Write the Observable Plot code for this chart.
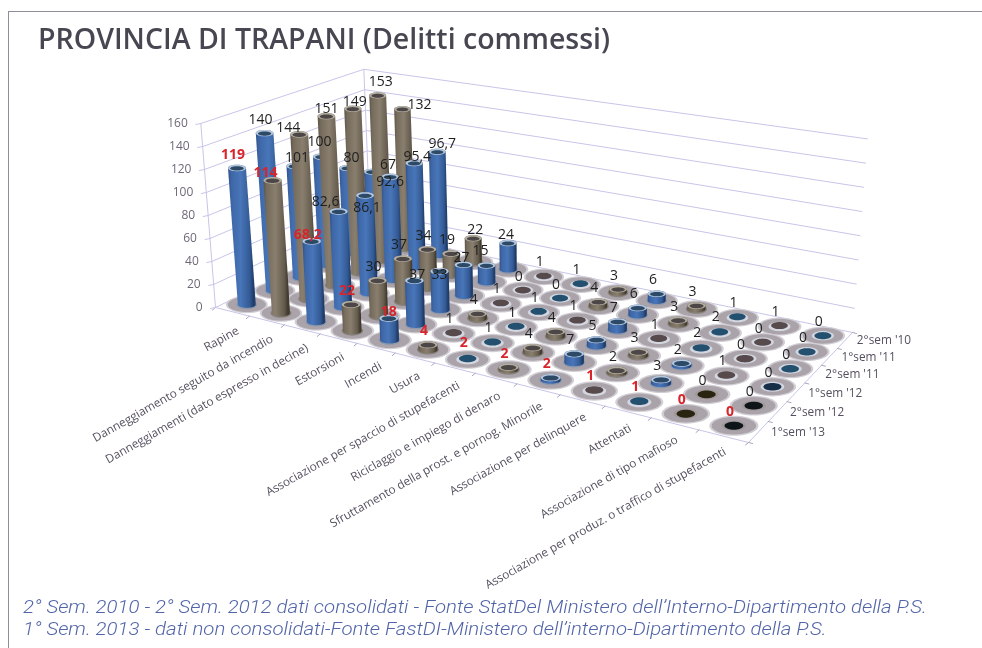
<!DOCTYPE html>
<html lang="it">
<head>
<meta charset="utf-8">
<title>Provincia di Trapani</title>
<script src="https://cdn.jsdelivr.net/npm/d3@7"></script>
<script src="https://cdn.jsdelivr.net/npm/@observablehq/plot@0.6"></script>
<style>
html,body{margin:0;padding:0;background:#fff;width:982px;height:648px;overflow:hidden}
#frame{position:absolute;left:8px;top:11px;width:974px;height:637px;border-left:1.5px solid #8f8f9c;border-top:1.5px solid #8f8f9c;box-sizing:border-box}
h1{position:absolute;left:38px;top:19px;margin:0;font:600 28.5px/38px "Open Sans",sans-serif;color:#474752;white-space:nowrap;filter:blur(.35px)}
#chart{position:absolute;left:0;top:62px;filter:blur(.5px)}
#note{position:absolute;left:23px;top:596px;margin:0;font:italic 300 18.4px/21.5px Roboto,sans-serif;color:#5164a8;white-space:nowrap;filter:blur(.25px);transform-origin:0 0;transform:scaleX(1.11)}
</style>
</head>
<body>
<div id="frame"></div>
<h1>PROVINCIA DI TRAPANI (Delitti commessi)</h1>
<div id="chart"></div>
<p id="note">2° Sem. 2010 - 2° Sem. 2012 dati consolidati - Fonte StatDel Ministero dell’Interno-Dipartimento della P.S.<br>1° Sem. 2013 - dati non consolidati-Fonte FastDI-Ministero dell’interno-Dipartimento della P.S.</p>
<script>
const categories = ["Rapine","Danneggiamento seguito da incendio","Danneggiamenti (dato espresso in decine)","Estorsioni","Incendi","Usura","Associazione per spaccio di stupefacenti","Riciclaggio e impiego di denaro","Sfruttamento della prost. e pornog. Minorile","Associazione per delinquere","Attentati","Associazione di tipo mafioso","Associazione per produz. o traffico di stupefacenti"];
const semesters = ["1°sem '13","2°sem '12","1°sem '12","2°sem '11","1°sem '11","2°sem '10"];
const sem1_13 = [119,114,68.2,22,18,4,2,2,2,1,1,0,0];
const sem2_12 = [140,144,82.6,30,37,1,1,4,7,2,3,0,0];
const sem1_12 = [101,151,86.1,37,33,4,1,4,5,3,2,1,0];
const sem2_11 = [100,149,92.6,34,27,1,1,1,7,1,2,0,0];
const sem1_11 = [80,153,95.4,19,15,0,0,4,6,3,2,0,0];
const sem2_10 = [67,132,96.7,22,24,1,1,3,6,3,1,1,0];
const seriesValues = [sem1_13,sem2_12,sem1_12,sem2_11,sem1_11,sem2_10];
const valueTicks = [0,20,40,60,80,100,120,140,160];

// 3-D view of the chart: floor corners, depth scale of the value axis, vanishing point of the verticals
const floor = {fl:[215,307], fr:[748,442], br:[852,332], bl:[370,232]};
const depthScale = {fl:1.15, fr:1.37, br:1.21, bl:1.02};
const vanish = [540,4375];
const nudges = {"1-1":[-11,-7],"2-1":[0,-8],"3-1":[2,-7],"4-1":[3,-14],"5-1":[17,-5],"2-0":[2,-9],"3-0":[-2,-15],"4-0":[4,-11],"5-0":[16,-7],
 "5-2":[5,-8],"4-2":[3,-7],"3-2":[0,5],"2-2":[2,12],"1-2":[-13,-10],"0-2":[-4,-7],"0-1":[-7,-8],"0-4":[0,-7],"1-4":[3,-6],"2-4":[0,3],"3-4":[-2,-7],"4-4":[-6,-15],"5-4":[-2,-9],"5-3":[2,-9]};

const [x0,y0]=floor.fl,[x1,y1]=floor.fr,[x2,y2]=floor.br,[x3,y3]=floor.bl;
const dx1=x1-x2,dx2=x3-x2,sx=x0-x1+x2-x3,dy1=y1-y2,dy2=y3-y2,sy=y0-y1+y2-y3;
const den=dx1*dy2-dx2*dy1,g=(sx*dy2-dx2*sy)/den,h=(dx1*sy-sx*dy1)/den;
const A=x1-x0+g*x1,B=x3-x0+h*x3,D=y1-y0+g*y1,E=y3-y0+h*y3;
function unit(u,v){const w=g*u+h*v+1;return [(A*u+B*v+x0)/w,(D*u+E*v+y0)/w];}
const cellUV=(c,r)=>[(c+.5)/categories.length,(r+.5)/semesters.length];
function kAt(u,v){return (1-v)*((1-u)*depthScale.fl+u*depthScale.fr)+v*((1-u)*depthScale.bl+u*depthScale.br);}
function lift(u,v,value){const [x,y]=unit(u,v),k=kAt(u,v),dy=value*k;return [x+dy*(x-vanish[0])/(vanish[1]-y),y-dy];}

// closed outlines handed to Plot.line (z keeps them apart, order gives the painter's depth)
const shapes=[];let nid=0;
function addShape(pts,fill){const id=nid++;for(const p of pts)shapes.push({id,x:p[0],y:p[1],fill});}
const arc=(cx,cy,rx,ry,a0,a1,n=24)=>d3.range(n+1).map(i=>{const a=a0+(a1-a0)*i/n;return [cx+rx*Math.cos(a),cy+ry*Math.sin(a)];});
const ell=(cx,cy,rx,ry)=>arc(cx,cy,rx,ry,0,2*Math.PI,36);

const cells=[];
seriesValues.forEach((vals,r)=>vals.forEach((value,c)=>{
  const [u,v]=cellUV(c,r),[bx,by]=unit(u,v),[tx,ty]=lift(u,v,value),k=kAt(u,v);
  cells.push({c,r,value,u,v,bx,by,tx,ty,k,blue:c%2===0});
}));
cells.sort((a,b)=>a.by-b.by);

// floor shadows first, then the cylinders from back to front
cells.forEach(d=>{const s=d.k/1.15;
  addShape(ell(d.bx,d.by,21*s,8.6*s),"#d2ced5");
  addShape(ell(d.bx,d.by,19*s,7.5*s),"#aaa4aa");
});
cells.forEach(d=>{
  const s=d.k/1.15,rx=9*s,ry=3.3*s,near=d.c>=11&&d.r<2;
  const center=near?(d.blue?"#0e1418":"#29240f"):(d.blue?(d.c===12&&d.r===2?"#173048":"#24506f"):"#574a4c");
  const hgt=d.by-d.ty;
  if(hgt<2.5){
    addShape(ell(d.bx,d.by,10.5*s,4.4*s),near?"#a09a9c":"#d4d6e0");
    addShape(ell(d.bx,d.by-(d.value?1:0),8*s,3.4*s),center);
    return;
  }
  addShape(ell(d.bx,d.by,rx+1.4,ry+1.4),d.blue?"#9099ac":"#86817a");
  // lower half of the base from left to right, then back across the top
  const base=arc(d.bx,d.by,rx,ry,Math.PI,0,24);
  const top=arc(d.tx,d.ty,rx,ry,0,-Math.PI,24);
  const bottom=base.map(([x,y])=>[x,d.by+Math.abs(y-d.by)]);
  addShape([...bottom,...top],d.blue?"url(#gBlue)":"url(#gBrown)");
  addShape(ell(d.tx,d.ty,rx,ry),d.blue?"#b7c8dc":"#b3aea2");
  addShape(ell(d.tx,d.ty+.4,rx-2.2,ry-1.1),d.blue?"#2c4a68":"#4c4646");
});

const F=(u,v,val=0)=>lift(u,v,val);
const wallLines=[];
valueTicks.forEach(t=>{
  wallLines.push({key:"w"+t,p:[F(0,0,t),F(0,1,t),F(1,1,t)]});
});
wallLines.push({key:"vl",p:[F(0,0,0),F(0,0,160)]});
wallLines.push({key:"vb",p:[F(0,1,0),F(0,1,160)]});
wallLines.push({key:"ft",p:[F(0,0),F(1,0),F(1,1)]});
const wallPts=wallLines.flatMap(l=>l.p.map(([x,y])=>({key:l.key,x,y})));

const tickPts=valueTicks.flatMap(t=>{const [x,y]=F(0,0,t);return [{key:t,x,y},{key:t,x:x-5,y:y+1}];});
const floorTicks=d3.range(categories.length+1).flatMap(i=>{const [x,y]=unit(i/categories.length,0);return [{key:"c"+i,x,y},{key:"c"+i,x:x-3,y:y+2.5}];})
  .concat(d3.range(semesters.length+1).flatMap(i=>{const [x,y]=unit(1,i/semesters.length);return [{key:"s"+i,x,y},{key:"s"+i,x:x+4,y:y+1}];}));

const valueLabels=cells.map(d=>{
  const [dx,dy]=nudges[d.r+"-"+d.c]||[-4,-14];
  return {text:String(d.value).replace(".",","),x:d.tx+dx,y:d.ty+dy,red:d.r===0,fill:d.r===0?"#d8242a":"#1f1f1f"};
});
const catLabels=categories.map((name,c)=>{const [u,v]=cellUV(c,0),[x,y]=unit(u,v);return {name,x:x-9,y:y+25};});
const semLabels=semesters.map((name,r)=>{const [u,v]=cellUV(categories.length-1,r),[x,y]=unit(u,v);return {name,x:x+37-r*.6,y:y+7-r*.4};});
const yTicks=valueTicks.map(t=>{const [x,y]=F(0,0,t);return {t,x:x-13,y};});

const defs=()=>{
  const svg=d3.create("svg:defs");
  const grad=(id,stops)=>{const l=svg.append("linearGradient").attr("id",id).attr("x1",0).attr("x2",1).attr("y1",0).attr("y2",0);
    stops.forEach(([o,c])=>l.append("stop").attr("offset",o).attr("stop-color",c));};
  grad("gBlue",[[0,"#2f5088"],[.12,"#3d66a6"],[.45,"#4876b9"],[.78,"#335a94"],[.93,"#1f3a66"],[1,"#2d4a76"]]);
  grad("gBrown",[[0,"#5a5347"],[.12,"#756b5c"],[.45,"#8a7f6e"],[.78,"#655c4e"],[.93,"#3d372d"],[1,"#544c40"]]);
  return svg.node();
};

const plot=Plot.plot({
  width:982,height:530,margin:0,
  x:{domain:[0,982],range:[0,982],axis:null},
  y:{domain:[592,62],range:[530,0],axis:null},
  color:{type:"identity"},
  style:{background:"transparent",fontFamily:"'Open Sans',sans-serif",overflow:"visible"},
  marks:[
    defs,
    Plot.line(wallPts,{x:"x",y:"y",z:"key",stroke:"#c8c5e8",strokeWidth:1}),
    Plot.line(floorTicks,{x:"x",y:"y",z:"key",stroke:"#a9a5bc",strokeWidth:1}),
    Plot.line(tickPts,{x:"x",y:"y",z:"key",stroke:"#c8c5e8",strokeWidth:1}),
    Plot.line(shapes,{x:"x",y:"y",z:"id",fill:"fill",stroke:"none"}),
    Plot.text(yTicks,{x:"x",y:"y",text:d=>String(d.t),textAnchor:"end",fontSize:12,fill:"#6f6878"}),
    Plot.text(catLabels,{x:"x",y:"y",text:"name",rotate:-29.5,textAnchor:"end",fontSize:11.8,fill:"#55505f"}),
    Plot.text(semLabels,{x:"x",y:"y",text:"name",textAnchor:"start",fontSize:11.8,fill:"#55505f"}),
    Plot.text(valueLabels.filter(d=>!d.red),{x:"x",y:"y",text:"text",fontSize:14,fill:"fill"}),
    Plot.text(valueLabels.filter(d=>d.red),{x:"x",y:"y",text:"text",fontSize:14,fontWeight:700,fill:"fill"})
  ]
});
document.getElementById("chart").append(plot);
</script>
</body>
</html>
